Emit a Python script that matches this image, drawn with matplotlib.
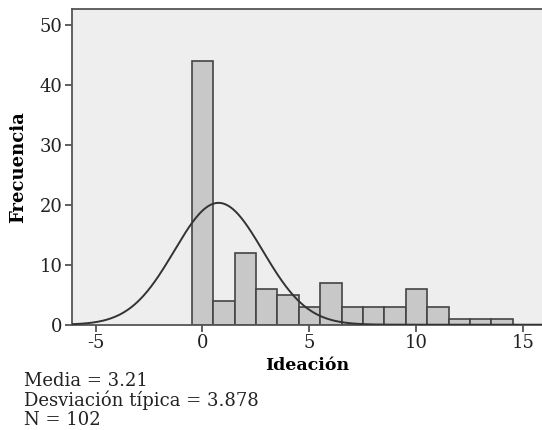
import numpy as np
import matplotlib
matplotlib.use("Agg")
import matplotlib.pyplot as plt

# Data
bin_centers = [0, 1, 2, 3, 4, 5, 6, 7, 8, 9, 10, 11, 12, 13, 14]
counts = [44, 4, 12, 6, 5, 3, 7, 3, 3, 3, 6, 3, 1, 1, 1]
bin_width = 1.0

# Normal curve as drawn (parameters)
curve_peak = 20.3
curve_mean = 0.75
curve_sd = 2.07

xticks = [-5, 0, 5, 10, 15]
yticks = [0, 10, 20, 30, 40, 50]
stats_lines = ["Media = 3.21", "Desviación típica = 3.878", "N = 102"]

plt.rcParams['font.family'] = ['DejaVu Serif']
plt.rcParams['axes.unicode_minus'] = False

fig = plt.figure(figsize=(5.42, 4.30), dpi=100)
ax = fig.add_axes([72/542, 1 - 324.7/430, 1 - 72/542, (324.7 - 9)/430])
ax.set_facecolor('#EEEEEE')

ax.bar(bin_centers, counts, width=bin_width, color='#C8C8C8',
       edgecolor='#444444', linewidth=1.2, zorder=2)

xs = np.linspace(-6.1, 16, 600)
ys = curve_peak * np.exp(-(xs - curve_mean) ** 2 / (2 * curve_sd ** 2))
ax.plot(xs, ys, color='#333333', linewidth=1.4, zorder=3)

ax.set_xlim(-6.1, 15.87)
ax.set_ylim(0, 52.6)
ax.set_xticks(xticks)
ax.set_yticks(yticks)
ax.tick_params(direction='out', length=5, width=1.2, color='#444444',
               labelsize=13, labelcolor='#222222', pad=2)

for s in ['left', 'top', 'bottom']:
    ax.spines[s].set_color('#555555')
    ax.spines[s].set_linewidth(1.3)
ax.spines['right'].set_visible(False)

ax.set_xlabel('Ideación', fontsize=12.5, fontweight='bold', labelpad=3)
ax.set_ylabel('Frecuencia', fontsize=13, fontweight='bold', labelpad=9)

y0 = 381
for i, line in enumerate(stats_lines):
    fig.text(24/542, 1 - (y0 + i * 19.5) / 430, line, fontsize=13,
             color='#222222', va='center', ha='left')

fig.savefig('out.png', dpi=100, facecolor='white')
